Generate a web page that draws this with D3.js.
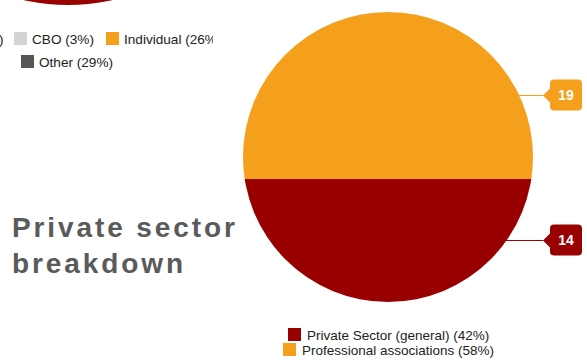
<!DOCTYPE html>
<html>
<head>
<meta charset="utf-8">
<script src="https://cdn.jsdelivr.net/npm/d3@7"></script>
<style>
  html, body { margin: 0; padding: 0; background: #fff; }
  svg { display: block; font-family: "Liberation Sans", Arial, sans-serif; }
</style>
</head>
<body>
<svg id="chart" width="587" height="363"></svg>
<script>
// Private sector breakdown
const categories = ["Private Sector (general)", "Professional associations"];
const values = [14, 19];
const colors = ["#990000", "#f5a01d"];

// Neighbouring chart's legend (partly visible)
const otherRow1 = ["CBO", "Individual"];
const otherRow1Pct = [3, 26];
const otherRow1Colors = ["#d3d3d3", "#f5a01d"];
const otherRow2 = ["Other"];
const otherRow2Pct = [29];
const otherRow2Colors = ["#555555"];

const titleLines = ["Private sector", "breakdown"];

const svg = d3.select("#chart");
const W = 587, H = 363;
svg.append("rect").attr("width", W).attr("height", H).attr("fill", "#fff");

// ---- neighbouring pie (bottom edge of a slice) ----
svg.append("circle").attr("cx", 68).attr("cy", -200).attr("r", 205).attr("fill", "#990000");

// ---- neighbouring legend ----
const leg0 = svg.append("g").attr("font-size", 13.6).attr("fill", "#222");
leg0.append("text").attr("x", -1).attr("y", 44).text(")");
const row1X = [14, 106];
otherRow1.forEach((c, i) => {
  leg0.append("rect").attr("x", row1X[i]).attr("y", 32).attr("width", 13).attr("height", 13)
    .attr("fill", otherRow1Colors[i]);
  leg0.append("text").attr("x", row1X[i] + 18).attr("y", 44)
    .text(`${c} (${otherRow1Pct[i]}%)`);
});
otherRow2.forEach((c, i) => {
  leg0.append("rect").attr("x", 21).attr("y", 55).attr("width", 13).attr("height", 13)
    .attr("fill", otherRow2Colors[i]);
  leg0.append("text").attr("x", 39).attr("y", 67).text(`${c} (${otherRow2Pct[i]}%)`);
});
// the neighbouring chart area ends here
svg.append("rect").attr("x", 213).attr("y", 0).attr("width", 30).attr("height", 80).attr("fill", "#fff");

// ---- title ----
const title = svg.append("text").attr("font-size", 28).attr("font-weight", "bold")
  .attr("fill", "#5a5a5a").attr("letter-spacing", 2.9);
titleLines.forEach((t, i) => {
  title.append("tspan").attr("x", 12).attr("y", 237 + i * 36).text(t);
});

// ---- level pie: circle filled by stacked height ----
const cx = 388, cy = 157, r = 145;
const total = d3.sum(values);
const y = d3.scaleLinear().domain([0, total]).range([cy + r, cy - r]);
const cum = [];
values.reduce((acc, v) => { cum.push([acc, acc + v]); return acc + v; }, 0);

const defs = svg.append("defs");
const pie = svg.append("g");
values.forEach((v, i) => {
  const [s, e] = cum[i];
  const id = "clip" + i;
  defs.append("clipPath").attr("id", id).append("rect")
    .attr("x", cx - r - 2).attr("width", 2 * r + 4)
    .attr("y", y(e)).attr("height", y(s) - y(e));
  pie.append("circle").attr("cx", cx).attr("cy", cy).attr("r", r)
    .attr("fill", colors[i]).attr("clip-path", `url(#${id})`);
});

// ---- callouts ----
const tipX = 543, boxL = 550, boxR = 582;
function calloutPath(yc) {
  const top = yc - 16, bot = yc + 15, rr = 4, p = 7;
  return `M${tipX},${yc} L${boxL},${yc - p} L${boxL},${top + rr} Q${boxL},${top} ${boxL + rr},${top}` +
    ` L${boxR - rr},${top} Q${boxR},${top} ${boxR},${top + rr} L${boxR},${bot - rr} Q${boxR},${bot} ${boxR - rr},${bot}` +
    ` L${boxL + rr},${bot} Q${boxL},${bot} ${boxL},${bot - rr} L${boxL},${yc + p} Z`;
}
values.forEach((v, i) => {
  const [s, e] = cum[i];
  const yc = (y(s) + y(e)) / 2;
  const edgeX = cx + Math.sqrt(Math.max(0, r * r - (yc - cy) * (yc - cy)));
  svg.append("line").attr("x1", edgeX - 1).attr("x2", tipX).attr("y1", yc).attr("y2", yc)
    .attr("stroke", colors[i]).attr("stroke-width", 1);
  svg.append("path").attr("d", calloutPath(yc)).attr("fill", colors[i]);
  svg.append("text").attr("x", (boxL + boxR) / 2).attr("y", yc + 5)
    .attr("text-anchor", "middle").attr("font-size", 14).attr("font-weight", "bold")
    .attr("fill", "#fff").text(v);
});

// ---- legend ----
const legX = [288, 283];
const legY = [328, 343];
const leg = svg.append("g").attr("font-size", 13.5).attr("fill", "#222");
categories.forEach((c, i) => {
  const pct = Math.round(values[i] / total * 100);
  leg.append("rect").attr("x", legX[i]).attr("y", legY[i]).attr("width", 13).attr("height", 13)
    .attr("fill", colors[i]);
  leg.append("text").attr("x", legX[i] + 19).attr("y", legY[i] + 12).text(`${c} (${pct}%)`);
});
</script>
</body>
</html>
